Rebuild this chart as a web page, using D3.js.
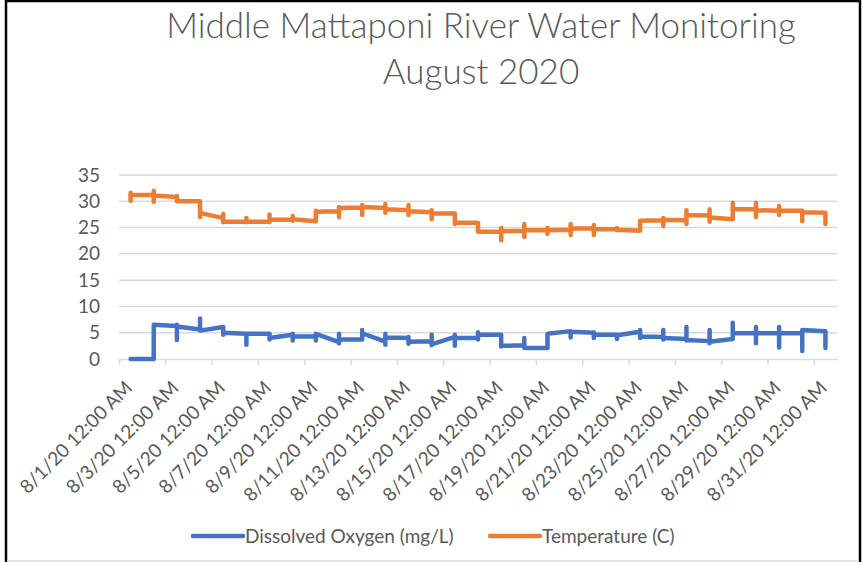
<!DOCTYPE html>
<html>
<head>
<meta charset="utf-8">
<script src="https://cdn.jsdelivr.net/npm/d3@7"></script>
<style>
  body { margin: 0; background: #fff; }
  text { font-family: Lato, "Open Sans", sans-serif; fill: #595959; }
</style>
</head>
<body>
<div id="chart"></div>
<script>
// Data: several readings per day, plotted at the day's centre
var days = d3.range(1, 32);

var oxygen = [
  [0, 0], [0, 6.5], [6.3, 3.6, 6.5, 6.2], [5.6, 7.7, 5.4, 5.4], [6.1, 4.6, 5.0],
  [4.8, 2.7, 4.8], [4.8, 3.7, 4.0], [4.6, 3.5, 4.8, 4.3], [4.3, 3.5, 4.8, 4.8], [3.2, 3.0, 4.8, 3.7],
  [3.7, 5.5, 4.9], [3.3, 4.8, 2.7, 4.1], [4.0, 4.2, 2.9, 3.3], [3.4, 4.6, 2.6, 2.8], [4.2, 4.6, 2.5, 4.0],
  [4.0, 3.7, 5.1, 4.6], [4.6, 2.4, 2.5], [2.6, 4.0, 2.2, 2.1], [2.1, 4.8], [5.3, 4.1, 5.2],
  [5.0, 4.0, 5.1, 4.6], [4.6, 3.8, 4.5], [5.2, 5.5, 4.0, 4.3], [4.2, 5.5, 3.7, 4.0], [3.8, 6.1, 3.5, 3.6],
  [3.4, 5.5, 3.0, 3.3], [3.8, 6.9, 4.9], [4.9, 6.1, 3.0, 4.9], [4.9, 6.1, 2.2, 4.9], [4.9, 1.5, 5.5],
  [5.3, 2.1]
];

var temperature = [
  [31.2, 30.1, 31.6, 31.2], [31.2, 29.9, 32.0, 31.1], [30.8, 31.0, 30.0, 30.0], [30.0, 27.0, 27.8], [26.8, 27.6, 26.0, 26.1],
  [26.1, 26.8, 26.0, 26.1], [26.1, 27.5, 26.0, 26.5], [26.5, 27.2, 26.3, 26.6], [26.2, 26.5, 28.2, 28.0], [28.1, 27.0, 28.9, 28.7],
  [28.8, 27.4, 29.3, 28.9], [28.7, 27.8, 29.5, 28.5], [28.3, 29.3, 27.4, 28.1], [27.9, 28.3, 26.6, 27.7], [27.7, 25.7, 25.9],
  [25.9, 24.2], [24.2, 24.9, 22.6, 24.3], [24.4, 25.7, 23.2, 24.5], [24.5, 24.9, 23.8, 24.5], [24.6, 25.7, 23.6, 24.8],
  [24.8, 25.5, 23.6, 24.7], [24.7, 24.9, 24.5, 24.6], [24.4, 26.3], [26.4, 26.8, 25.3, 26.5], [26.4, 25.7, 28.3, 27.4],
  [27.3, 28.5, 26.1, 26.9], [26.6, 29.7, 28.5], [28.5, 29.7, 27.0, 28.3], [28.2, 29.1, 27.4, 28.2], [28.2, 26.2, 27.9],
  [27.8, 25.7]
];

var yTicks = [0, 5, 10, 15, 20, 25, 30, 35];
var xTickDays = [1, 3, 5, 7, 9, 11, 13, 15, 17, 19, 21, 23, 25, 27, 29, 31];
var xTickLabels = ["8/1/20 12:00 AM", "8/3/20 12:00 AM", "8/5/20 12:00 AM", "8/7/20 12:00 AM",
  "8/9/20 12:00 AM", "8/11/20 12:00 AM", "8/13/20 12:00 AM", "8/15/20 12:00 AM",
  "8/17/20 12:00 AM", "8/19/20 12:00 AM", "8/21/20 12:00 AM", "8/23/20 12:00 AM",
  "8/25/20 12:00 AM", "8/27/20 12:00 AM", "8/29/20 12:00 AM", "8/31/20 12:00 AM"];

var seriesNames = ["Dissolved Oxygen (mg/L)", "Temperature (C)"];
var colors = ["#4472C4", "#ED7D31"];

var width = 863, height = 562;
var plot = { left: 119, right: 837, top: 175, bottom: 359 };

var svg = d3.select("#chart").append("svg")
  .attr("width", width)
  .attr("height", height);

// frame
svg.append("rect")
  .attr("x", 6).attr("y", 1)
  .attr("width", 854).attr("height", 600)
  .attr("fill", "none").attr("stroke", "#000").attr("stroke-width", 2.5);
svg.append("line")
  .attr("x1", 7).attr("x2", 859).attr("y1", 561).attr("y2", 561)
  .attr("stroke", "#d9d9d9").attr("stroke-width", 1.5);

// scales
var xScale = d3.scaleTime()
  .domain([new Date(2020, 7, 1), new Date(2020, 8, 1)])
  .range([plot.left, plot.right]);
var yScale = d3.scaleLinear()
  .domain([0, 35])
  .range([plot.bottom, plot.top]);

var dayCentre = d => new Date(2020, 7, d, 12);

// gridlines
svg.append("g")
  .selectAll("line")
  .data(yTicks.filter(d => d > 0))
  .enter().append("line")
  .attr("x1", plot.left).attr("x2", plot.right)
  .attr("y1", d => yScale(d)).attr("y2", d => yScale(d))
  .attr("stroke", "#d9d9d9").attr("stroke-width", 1.5);

// y axis labels
var yAxis = d3.axisLeft(yScale).tickValues(yTicks).tickSize(0).tickPadding(19);
var gy = svg.append("g")
  .attr("transform", "translate(" + plot.left + ",0)")
  .call(yAxis);
gy.select(".domain").remove();
gy.selectAll("text")
  .style("font-size", "19px")
  .style("font-family", "Lato, sans-serif")
  .attr("fill", "#595959");

// x axis
var xAxis = d3.axisBottom(xScale)
  .tickValues(xTickDays.map(d => new Date(2020, 7, d)))
  .tickFormat((d, i) => xTickLabels[i])
  .tickSize(6).tickSizeOuter(0);
var gx = svg.append("g")
  .attr("transform", "translate(0," + plot.bottom + ")")
  .call(xAxis);
gx.select(".domain").attr("stroke", "#d9d9d9").attr("stroke-width", 1.5);
gx.selectAll(".tick line").attr("stroke", "#d9d9d9").attr("stroke-width", 1.5);
gx.selectAll("text")
  .attr("y", 0).attr("dy", 0)
  .attr("text-anchor", "end")
  .attr("transform", "translate(14,30) rotate(-45)")
  .style("font-size", "19px")
  .style("font-family", "Lato, sans-serif")
  .attr("fill", "#595959");

// lines
var line = d3.line()
  .x(d => xScale(d[0]))
  .y(d => yScale(d[1]));

[oxygen, temperature].forEach((series, s) => {
  var pts = [];
  series.forEach((readings, i) => {
    readings.forEach(v => pts.push([dayCentre(days[i]), v]));
  });
  svg.append("path")
    .datum(pts)
    .attr("d", line)
    .attr("fill", "none")
    .attr("stroke", colors[s])
    .attr("stroke-width", 4.5)
    .attr("stroke-linejoin", "round")
    .attr("stroke-linecap", "round");
});

// title
svg.append("text")
  .attr("x", 481).attr("y", 38)
  .attr("text-anchor", "middle")
  .style("font-size", "35px")
  .style("font-weight", 300)
  .text("Middle Mattaponi River Water Monitoring");
svg.append("text")
  .attr("x", 481).attr("y", 84)
  .attr("text-anchor", "middle")
  .style("font-size", "35px")
  .style("font-weight", 300)
  .text("August 2020");

// legend
var legendX = [193, 490];
seriesNames.forEach((name, i) => {
  svg.append("line")
    .attr("x1", legendX[i]).attr("x2", legendX[i] + 50)
    .attr("y1", 536).attr("y2", 536)
    .attr("stroke", colors[i]).attr("stroke-width", 4.5)
    .attr("stroke-linecap", "round");
  svg.append("text")
    .attr("x", legendX[i] + 52).attr("y", 542.5)
    .style("font-size", "19px")
    .text(name);
});
</script>
</body>
</html>
